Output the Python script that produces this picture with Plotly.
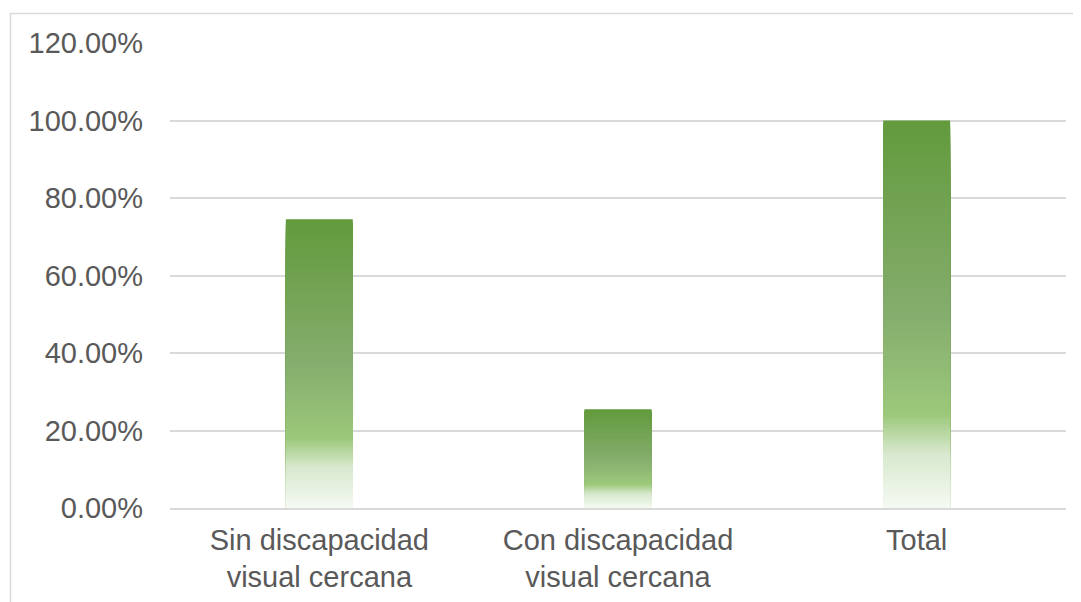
import plotly.graph_objects as go

categories = ["Sin discapacidad<br>visual cercana", "Con discapacidad<br>visual cercana", "Total"]
values = [74.5, 25.5, 100.0]
tick_vals = [0, 20, 40, 60, 80, 100, 120]
tick_text = ["0.00%", "20.00%", "40.00%", "60.00%", "80.00%", "100.00%", "120.00%"]

# gradient stops (fraction from top of bar, colour)
stops = [(0.0, (0x62, 0x9A, 0x3C)), (0.5, (0x85, 0xAD, 0x6D)), (0.76, (0x9C, 0xC8, 0x7B)),
         (0.86, (0xD8, 0xE9, 0xCF)), (1.0, (0xF5, 0xF9, 0xF3))]


def grad(t):
    for (a, ca), (b, cb) in zip(stops[:-1], stops[1:]):
        if a <= t <= b:
            f = (t - a) / (b - a) if b > a else 0
            c = [round(ca[i] + (cb[i] - ca[i]) * f) for i in range(3)]
            return "rgb(%d,%d,%d)" % tuple(c)
    return "rgb(245,249,243)"


N = 120
fig = go.Figure()
for k in range(N):
    frac = (N - k) / N
    fig.add_trace(go.Bar(
        x=categories, y=[v * frac for v in values], width=0.224,
        marker=dict(color=grad((k + 0.5) / N), line=dict(width=0)),
        hoverinfo="skip", showlegend=False,
    ))

# page body has an 8px margin; compensate so the plot lands where the reference has it
OFF = 8
W, H = 1081, 602
l, r, t, b = 170 - OFF, 15 + OFF, 43 - OFF, 94 + OFF
pw, ph = W - l - r, H - t - b
bx = (10.5 - OFF - l) / pw
by = (H - b - (13.5 - OFF)) / ph

fig.update_layout(
    width=W, height=H, barmode="overlay",
    margin=dict(l=l, r=r, t=t, b=b),
    paper_bgcolor="white", plot_bgcolor="white",
    font=dict(family="Liberation Sans, Arial, sans-serif", color="#595959"),
    xaxis=dict(showgrid=False, showline=True, linecolor="#D9D9D9", linewidth=1.5,
               tickfont=dict(size=29, color="#595959"), ticks="", ticklabelstandoff=5,
               fixedrange=True),
    yaxis=dict(range=[0, 120], tickvals=tick_vals, ticktext=tick_text,
               showgrid=True, gridcolor="#D9D9D9", gridwidth=1.5, zeroline=False,
               showline=False, ticks="", ticklabelstandoff=26,
               tickfont=dict(size=29, color="#595959")),
    shapes=[dict(type="path", xref="paper", yref="paper",
                 path=f"M {bx} -0.5 L {bx} {by} L 1.2 {by}",
                 line=dict(color="#D9D9D9", width=1.5))],
)
fig.write_html("out.html")
